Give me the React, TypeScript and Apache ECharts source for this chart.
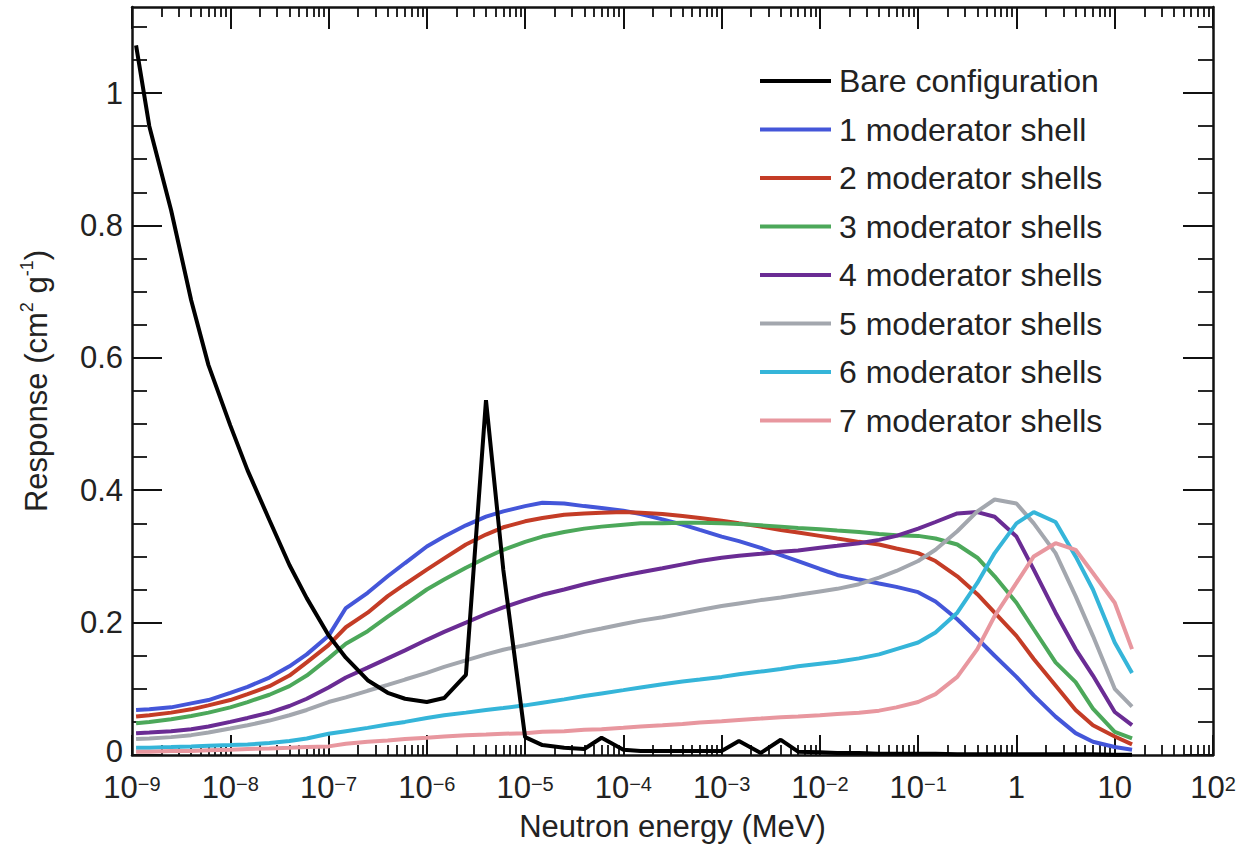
import React, { useEffect, useRef } from 'react';
import * as echarts from 'echarts';

// Neutron energy grid (MeV)
const energiesMeV = [
  1.1e-9, 1.5e-9, 2.5e-9, 4e-9, 6e-9,
  1e-8, 1.5e-8, 2.5e-8, 4e-8, 6e-8,
  1e-7, 1.5e-7, 2.5e-7, 4e-7, 6e-7,
  1e-6, 1.5e-6, 2.5e-6, 4e-6, 6e-6,
  1e-5, 1.5e-5, 2.5e-5, 4e-5, 6e-5,
  1e-4, 1.5e-4, 2.5e-4, 4e-4, 6e-4,
  1e-3, 1.5e-3, 2.5e-3, 4e-3, 6e-3,
  1e-2, 1.5e-2, 2.5e-2, 4e-2, 6e-2,
  0.1, 0.15, 0.25, 0.4, 0.6,
  1, 1.5, 2.5, 4, 6,
  10, 15,
];

const bare = [
  1.072, 0.95, 0.823, 0.687, 0.589,
  0.498, 0.43, 0.355, 0.287, 0.237,
  0.181, 0.147, 0.113, 0.094, 0.085,
  0.08, 0.086, 0.121, 0.536, 0.28,
  0.027, 0.015, 0.011, 0.009, 0.026,
  0.008, 0.006, 0.006, 0.006, 0.006,
  0.006, 0.021, 0.003, 0.023, 0.005,
  0.004, 0.003, 0.003, 0.002, 0.002,
  0.002, 0.002, 0.001, 0.001, 0.001,
  0.001, 0.001, 0.001, 0.001, 0.001,
  0.0005, 0.0005,
];

const shell1 = [
  0.068, 0.069, 0.072, 0.078, 0.083,
  0.094, 0.103, 0.117, 0.134, 0.152,
  0.18, 0.222, 0.245, 0.27, 0.29,
  0.315, 0.33, 0.347, 0.36, 0.368,
  0.376, 0.381, 0.38, 0.376, 0.373,
  0.369, 0.364, 0.356, 0.348, 0.34,
  0.33, 0.323, 0.313, 0.302, 0.293,
  0.281, 0.272, 0.265, 0.259, 0.254,
  0.246, 0.232, 0.205, 0.176, 0.15,
  0.118, 0.09, 0.058, 0.033, 0.02,
  0.012, 0.008,
];

const shell2 = [
  0.058, 0.06, 0.064, 0.069, 0.075,
  0.083, 0.092, 0.104, 0.12, 0.14,
  0.166, 0.193, 0.215, 0.24, 0.258,
  0.28, 0.297, 0.318, 0.333, 0.344,
  0.353, 0.358, 0.363, 0.365, 0.366,
  0.367, 0.366, 0.364, 0.361, 0.358,
  0.354, 0.35, 0.345, 0.34, 0.336,
  0.331, 0.327, 0.322, 0.318, 0.312,
  0.305, 0.293, 0.27, 0.243, 0.215,
  0.18, 0.145, 0.105, 0.068, 0.045,
  0.028, 0.016,
];

const shell3 = [
  0.048, 0.05, 0.054, 0.059, 0.064,
  0.072, 0.08, 0.091, 0.104, 0.12,
  0.146, 0.168, 0.187, 0.209, 0.227,
  0.25, 0.265, 0.283, 0.298, 0.31,
  0.322, 0.33, 0.337, 0.342, 0.345,
  0.348, 0.35, 0.35, 0.351, 0.351,
  0.35, 0.349, 0.347, 0.345, 0.343,
  0.341, 0.339, 0.337, 0.334, 0.332,
  0.331, 0.327, 0.318, 0.298, 0.27,
  0.23, 0.19, 0.14, 0.11, 0.07,
  0.035, 0.025,
];

const shell4 = [
  0.033, 0.034, 0.036, 0.039, 0.043,
  0.05, 0.056, 0.064, 0.074, 0.085,
  0.102, 0.117, 0.132, 0.146, 0.158,
  0.174, 0.186, 0.2, 0.213, 0.223,
  0.234, 0.242, 0.25, 0.258, 0.264,
  0.271, 0.276, 0.282, 0.288, 0.293,
  0.298, 0.301, 0.304, 0.307, 0.309,
  0.313, 0.316, 0.32, 0.325, 0.331,
  0.342, 0.352, 0.365, 0.367, 0.36,
  0.33, 0.28, 0.215, 0.16, 0.12,
  0.065, 0.045,
];

const shell5 = [
  0.024, 0.025, 0.027, 0.03, 0.034,
  0.04, 0.045, 0.052, 0.06, 0.068,
  0.08, 0.087, 0.097, 0.106, 0.114,
  0.124, 0.133, 0.143, 0.152, 0.159,
  0.166, 0.172, 0.179, 0.186, 0.191,
  0.198, 0.203, 0.208, 0.214, 0.219,
  0.225, 0.229, 0.234, 0.238, 0.242,
  0.247, 0.251, 0.258, 0.268, 0.278,
  0.293, 0.31, 0.338, 0.368, 0.386,
  0.38, 0.35, 0.305, 0.24, 0.18,
  0.1, 0.073,
];

const shell6 = [
  0.011, 0.011, 0.012, 0.013, 0.014,
  0.015, 0.016, 0.018, 0.021, 0.025,
  0.032, 0.036, 0.041, 0.046, 0.05,
  0.056, 0.06, 0.064, 0.068, 0.071,
  0.075, 0.079, 0.084, 0.089, 0.093,
  0.098, 0.102, 0.107, 0.111, 0.114,
  0.118, 0.122, 0.126, 0.13, 0.134,
  0.138, 0.141, 0.146, 0.152, 0.16,
  0.17, 0.185, 0.215, 0.26, 0.305,
  0.35, 0.367, 0.352, 0.3, 0.25,
  0.17, 0.124,
];

const shell7 = [
  0.005, 0.005, 0.006, 0.006, 0.007,
  0.008, 0.009, 0.01, 0.011, 0.012,
  0.013, 0.017, 0.02, 0.022, 0.024,
  0.026, 0.028, 0.03, 0.031, 0.032,
  0.033, 0.035, 0.036, 0.038, 0.039,
  0.041, 0.043, 0.045, 0.047, 0.049,
  0.051, 0.053, 0.055, 0.057, 0.058,
  0.06, 0.062, 0.064, 0.067, 0.072,
  0.08, 0.092, 0.118, 0.16, 0.21,
  0.26, 0.3, 0.32, 0.31, 0.275,
  0.23, 0.16,
];

const seriesNames = [
  'Bare configuration',
  '1 moderator shell',
  '2 moderator shells',
  '3 moderator shells',
  '4 moderator shells',
  '5 moderator shells',
  '6 moderator shells',
  '7 moderator shells',
];
const seriesValues = [bare, shell1, shell2, shell3, shell4, shell5, shell6, shell7];
const seriesColors = ['#000000', '#4456d9', '#c43c26', '#4ca85a', '#6a2c94', '#a3a7ae', '#35b5d9', '#e8979f'];

// axis ticks
const xDecades = [-9, -8, -7, -6, -5, -4, -3, -2, -1, 0, 1, 2];
const minorMultipliers = [2, 3, 4, 5, 6, 7, 8, 9];
const yMajorTicks = [0, 0.2, 0.4, 0.6, 0.8, 1.0];
const yMinorTicks = [0.05, 0.1, 0.15, 0.25, 0.3, 0.35, 0.45, 0.5, 0.55, 0.65, 0.7, 0.75, 0.85, 0.9, 0.95, 1.05, 1.1];

const FONT = 'Liberation Sans';
const TXT = '#222222';

export default function App() {
  const ref = useRef<HTMLDivElement>(null);

  useEffect(() => {
    if (!ref.current) return;
    const chart = echarts.init(ref.current, null, { renderer: 'svg' });

    const xMinor: number[] = [];
    xDecades.slice(0, -1).forEach((d) => {
      minorMultipliers.forEach((k) => xMinor.push(d + Math.log10(k)));
    });

    const xBase = { type: 'value', min: -9, max: 2, interval: 1, splitLine: { show: false } };
    const yBase = { type: 'value', min: 0, max: 1.13, interval: 0.2, splitLine: { show: false } };
    const lineAxis = { show: true, onZero: false, lineStyle: { color: '#111', width: 2.5 } };
    const noLine = { show: false, onZero: false };

    const option: any = {
      animation: false,
      backgroundColor: '#ffffff',
      grid: { left: 132, right: 45, top: 7, bottom: 97, containLabel: false },
      legend: {
        orient: 'vertical',
        left: 755,
        top: 59,
        icon: 'rect',
        itemWidth: 71,
        itemHeight: 4,
        itemGap: 14.5,
        data: seriesNames,
        textStyle: { fontSize: 32, color: TXT, fontFamily: FONT, lineHeight: 34, padding: [0, 0, 0, 3] },
        selectedMode: false,
      },
      xAxis: [
        {
          ...xBase,
          position: 'bottom',
          name: 'Neutron energy (MeV)',
          nameLocation: 'middle',
          nameGap: 56,
          nameTextStyle: { fontSize: 31, color: TXT, fontFamily: FONT },
          axisLine: lineAxis,
          axisTick: { show: true, inside: true, length: 20, customValues: xDecades, lineStyle: { color: '#111', width: 2 } },
          axisLabel: {
            show: true,
            margin: 19,
            showMinLabel: true,
            showMaxLabel: true,
            customValues: xDecades,
            formatter: (v: number) => {
              const r = Math.round(v);
              if (r === 0) return '{n|1}';
              if (r === 1) return '{n|10}';
              return `{n|10}{e|${r < 0 ? '\u2212' + -r : r}}`;
            },
            rich: {
              n: { fontSize: 31, color: TXT, fontFamily: FONT, lineHeight: 26 },
              e: { fontSize: 20, color: TXT, fontFamily: FONT, lineHeight: 4, verticalAlign: 'top' },
            },
          },
        },
        {
          ...xBase,
          position: 'bottom',
          axisLine: noLine,
          axisLabel: { show: false },
          axisTick: { show: true, inside: true, length: 10, customValues: xMinor, lineStyle: { color: '#111', width: 1.8 } },
        },
        {
          ...xBase,
          position: 'top',
          axisLine: lineAxis,
          axisLabel: { show: false },
          axisTick: { show: true, inside: true, length: 22, customValues: xDecades, lineStyle: { color: '#111', width: 2 } },
        },
        {
          ...xBase,
          position: 'top',
          axisLine: noLine,
          axisLabel: { show: false },
          axisTick: { show: true, inside: true, length: 10, customValues: xMinor, lineStyle: { color: '#111', width: 1.8 } },
        },
      ],
      yAxis: [
        {
          ...yBase,
          position: 'left',
          name: '{a|Response (cm}{s|2}{a| g}{s|-1}{a|)}',
          nameLocation: 'middle',
          nameGap: 78,
          nameTextStyle: {
            fontSize: 31,
            color: TXT,
            fontFamily: FONT,
            rich: {
              a: { fontSize: 31, color: TXT, fontFamily: FONT, lineHeight: 36 },
              s: { fontSize: 18, color: TXT, fontFamily: FONT, lineHeight: 14, verticalAlign: 'top' },
            },
          },
          axisLine: lineAxis,
          axisTick: { show: true, inside: true, length: 30, customValues: yMajorTicks, lineStyle: { color: '#111', width: 2 } },
          axisLabel: {
            show: true,
            margin: 9,
            customValues: yMajorTicks,
            fontSize: 31,
            lineHeight: 31,
            color: TXT,
            fontFamily: FONT,
            formatter: (v: number) =>
              v === 0 ? '{z|0}' : Math.abs(v - 1) < 1e-9 ? '1' : v.toFixed(1),
            rich: {
              z: { fontSize: 31, color: TXT, fontFamily: FONT, lineHeight: 31, padding: [0, 0, 8, 0] },
            },
          },
        },
        {
          ...yBase,
          position: 'left',
          axisLine: noLine,
          axisLabel: { show: false },
          axisTick: { show: true, inside: true, length: 15, customValues: yMinorTicks, lineStyle: { color: '#111', width: 1.8 } },
        },
        {
          ...yBase,
          position: 'right',
          axisLine: lineAxis,
          axisLabel: { show: false },
          axisTick: { show: true, inside: true, length: 30, customValues: yMajorTicks, lineStyle: { color: '#111', width: 2 } },
        },
        {
          ...yBase,
          position: 'right',
          axisLine: noLine,
          axisLabel: { show: false },
          axisTick: { show: true, inside: true, length: 15, customValues: yMinorTicks, lineStyle: { color: '#111', width: 1.8 } },
        },
      ],
      series: seriesNames.map((name, si) => ({
        name,
        type: 'line',
        xAxisIndex: 0,
        yAxisIndex: 0,
        z: si === 0 ? 4 : 2,
        showSymbol: false,
        symbol: 'none',
        smooth: false,
        clip: true,
        itemStyle: { color: seriesColors[si] },
        lineStyle: { color: seriesColors[si], width: 4 },
        data: energiesMeV.map((e, i) => [Math.log10(e), seriesValues[si][i]]),
      })),
    };

    chart.setOption(option);
    return () => chart.dispose();
  }, []);

  return (
    <div
      ref={ref}
      style={{ position: 'fixed', left: 0, top: 0, width: 1258, height: 852, background: '#fff' }}
    />
  );
}
